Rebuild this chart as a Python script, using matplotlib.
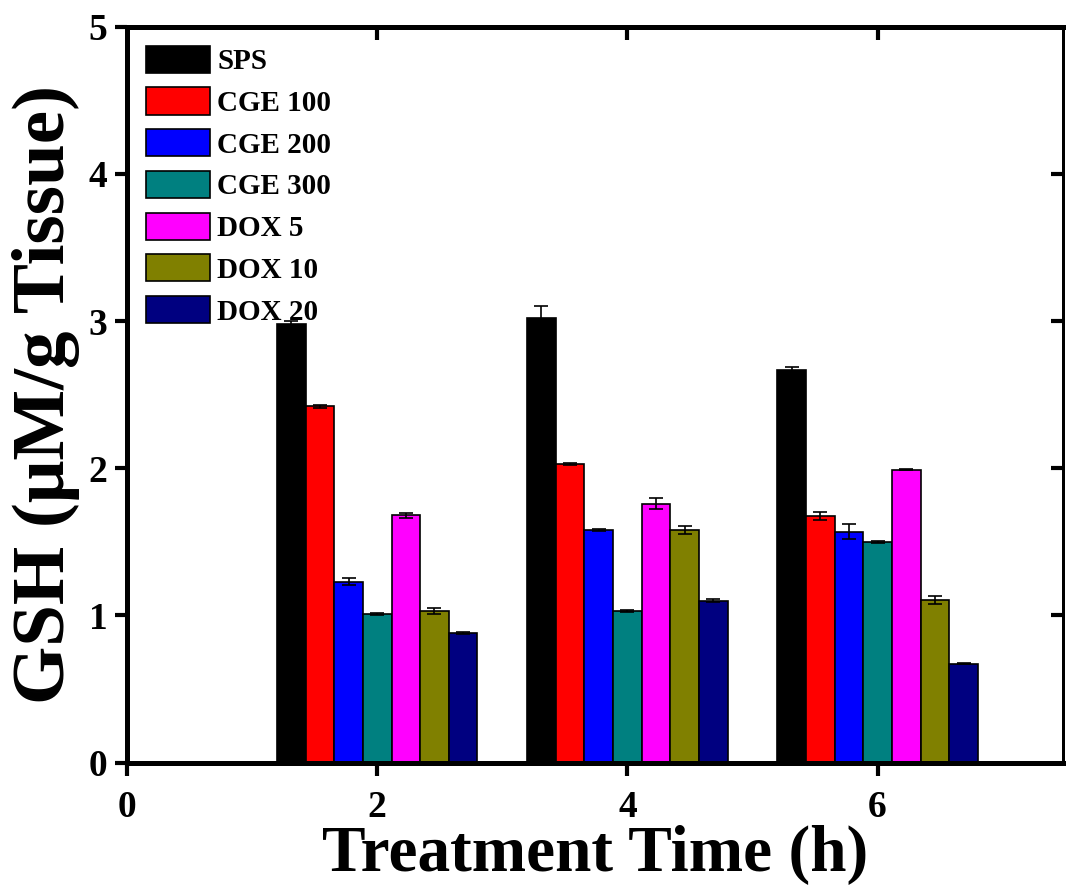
import matplotlib.pyplot as plt
import numpy as np

plt.rcParams['font.family'] = 'Liberation Serif'
plt.rcParams['font.weight'] = 'bold'

times = [2, 4, 6]
groups = ['SPS', 'CGE 100', 'CGE 200', 'CGE 300', 'DOX 5', 'DOX 10', 'DOX 20']
colors = ['#000000', '#ff0000', '#0000ff', '#008080', '#ff00ff', '#808000', '#000080']

# GSH values at 2, 4 and 6 h for each treatment group
sps = [2.98, 3.02, 2.665]
cge100 = [2.42, 2.03, 1.675]
cge200 = [1.23, 1.58, 1.57]
cge300 = [1.01, 1.03, 1.50]
dox5 = [1.68, 1.76, 1.99]
dox10 = [1.03, 1.58, 1.105]
dox20 = [0.88, 1.10, 0.672]

sps_err = [0.02, 0.08, 0.02]
cge100_err = [0.01, 0.005, 0.025]
cge200_err = [0.025, 0.005, 0.05]
cge300_err = [0.01, 0.008, 0.005]
dox5_err = [0.015, 0.04, 0.005]
dox10_err = [0.02, 0.025, 0.03]
dox20_err = [0.005, 0.01, 0.005]

values = [sps, cge100, cge200, cge300, dox5, dox10, dox20]
errors = [sps_err, cge100_err, cge200_err, cge300_err, dox5_err, dox10_err, dox20_err]

fig = plt.figure(figsize=(10.67, 8.93), dpi=100)
ax = fig.add_axes([0.119, 0.146, 0.877, 0.824])

x = np.array(times, dtype=float)
w = 0.229
for i, (name, vals, err, c) in enumerate(zip(groups, values, errors, colors)):
    ax.bar(x + (i - 3) * w, vals, width=w, color=c, edgecolor='black', linewidth=1.2,
           yerr=err, capsize=5, error_kw=dict(elinewidth=1.2, capthick=1.2, ecolor='black'),
           label=name, zorder=2)

ax.set_xlim(0, 7.48)
ax.set_ylim(0, 5)
ax.set_xticks([0, 2, 4, 6])
ax.set_yticks([0, 1, 2, 3, 4, 5])
ax.tick_params(axis='both', which='major', direction='out', length=9, width=3,
               labelsize=27, pad=5)
ax.tick_params(axis='x', pad=11)
for lab in ax.get_xticklabels() + ax.get_yticklabels():
    lab.set_fontweight('bold')

# inward ticks on the top and right edges
top = ax.twiny()
top.set_xlim(ax.get_xlim())
top.set_xticks([2, 4, 6])
top.tick_params(direction='in', length=9, width=3, labeltop=False)
right = ax.twinx()
right.set_ylim(ax.get_ylim())
right.set_yticks([1, 2, 3, 4])
right.tick_params(direction='in', length=9, width=3, labelright=False)

for a in (ax, top, right):
    for side in ['left', 'bottom', 'top']:
        a.spines[side].set_linewidth(3.5)
    a.spines['right'].set_linewidth(2)

ax.set_xlabel('Treatment Time (h)', fontsize=47, fontweight='bold', labelpad=0)
ax.set_ylabel('GSH (μM/g Tissue)', fontsize=54, fontweight='bold', labelpad=6)

ax.legend(loc='upper left', frameon=False, handlelength=2.2,
          handleheight=1.05, handletextpad=0.25, labelspacing=0.42,
          borderaxespad=0.25, prop=dict(weight='bold', size=21))

fig.savefig('out.png', dpi=100)
